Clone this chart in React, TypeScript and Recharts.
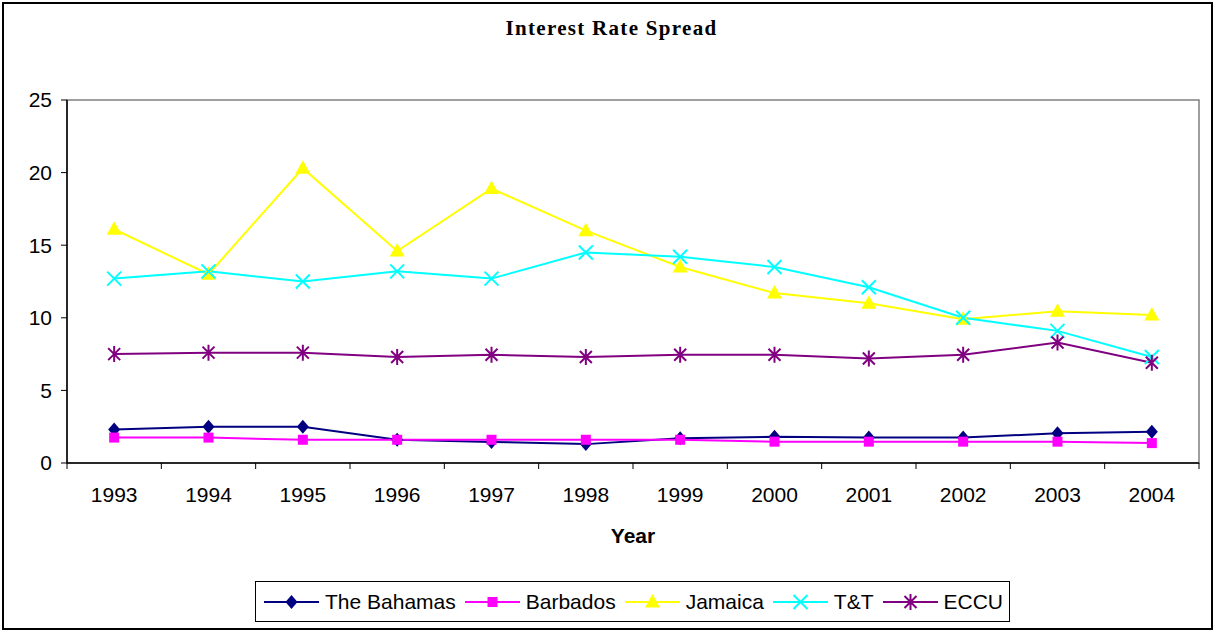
import React from "react"
import {
  LineChart,
  Line,
  XAxis,
  YAxis,
  ReferenceArea,
  Legend,
} from "recharts"

const years = ["1993", "1994", "1995", "1996", "1997", "1998", "1999", "2000", "2001", "2002", "2003", "2004"]
const bahamas = [2.3, 2.5, 2.5, 1.6, 1.45, 1.3, 1.7, 1.8, 1.75, 1.75, 2.05, 2.15]
const barbados = [1.75, 1.75, 1.6, 1.6, 1.6, 1.6, 1.6, 1.47, 1.47, 1.47, 1.47, 1.37]
const jamaica = [16.1, 13.0, 20.3, 14.6, 18.9, 16.0, 13.5, 11.7, 11.0, 9.9, 10.45, 10.2]
const trinidad = [12.7, 13.2, 12.5, 13.2, 12.7, 14.5, 14.2, 13.5, 12.1, 10.0, 9.1, 7.3]
const eccu = [7.5, 7.6, 7.6, 7.3, 7.45, 7.3, 7.45, 7.45, 7.2, 7.45, 8.3, 6.9]
const yTicks = [0, 5, 10, 15, 20, 25]

const data = years.map((year, i) => ({
  year,
  bahamas: bahamas[i],
  barbados: barbados[i],
  jamaica: jamaica[i],
  trinidad: trinidad[i],
  eccu: eccu[i],
}))

const FONT = "Arial, 'Liberation Sans', sans-serif"

type MarkProps = { cx?: number; cy?: number; color: string }

const Diamond = ({ cx = 0, cy = 0, color }: MarkProps) => (
  <path d={`M${cx},${cy - 7}L${cx + 6},${cy}L${cx},${cy + 7}L${cx - 6},${cy}Z`} fill={color} />
)
const Square = ({ cx = 0, cy = 0, color }: MarkProps) => (
  <rect x={cx - 5} y={cy - 5} width={10} height={10} fill={color} />
)
const Triangle = ({ cx = 0, cy = 0, color }: MarkProps) => (
  <path d={`M${cx},${cy - 8}L${cx + 7.5},${cy + 5.5}L${cx - 7.5},${cy + 5.5}Z`} fill={color} />
)
const Cross = ({ cx = 0, cy = 0, color }: MarkProps) => (
  <path d={`M${cx - 7},${cy - 7}L${cx + 7},${cy + 7}M${cx - 7},${cy + 7}L${cx + 7},${cy - 7}`} stroke={color} strokeWidth={2} fill="none" />
)
const Star = ({ cx = 0, cy = 0, color }: MarkProps) => (
  <path
    d={`M${cx - 6},${cy - 6}L${cx + 6},${cy + 6}M${cx - 6},${cy + 6}L${cx + 6},${cy - 6}M${cx},${cy - 8}L${cx},${cy + 8}`}
    stroke={color}
    strokeWidth={2}
    fill="none"
  />
)

const series = [
  { key: "bahamas", name: "The Bahamas", color: "#000080", Mark: Diamond },
  { key: "barbados", name: "Barbados", color: "#FF00FF", Mark: Square },
  { key: "jamaica", name: "Jamaica", color: "#FFFF00", Mark: Triangle },
  { key: "trinidad", name: "T&T", color: "#00FFFF", Mark: Cross },
  { key: "eccu", name: "ECCU", color: "#800080", Mark: Star },
]

// year labels centred in each band, tick marks on the band edges
const YearTick = (props: any) => {
  const { x, y, payload, index } = props
  const half = payload?.offset ?? 47
  return (
    <g>
      <line x1={x - half} x2={x - half} y1={y} y2={y + 6} stroke="#000" />
      {index === years.length - 1 && (
        <line x1={x + half} x2={x + half} y1={y} y2={y + 6} stroke="#000" />
      )}
      <text x={x} y={y + 39} textAnchor="middle" fontSize={21} fontFamily={FONT} fill="#000">
        {payload.value}
      </text>
    </g>
  )
}

const YearLabel = (props: any) => {
  const vb = props.viewBox || { x: 67, y: 463, width: 1132 }
  return (
    <text
      x={vb.x + vb.width / 2}
      y={vb.y + 80}
      textAnchor="middle"
      fontSize={21}
      fontWeight="bold"
      fontFamily={FONT}
      fill="#000"
    >
      Year
    </text>
  )
}

const LegendBox = () => (
  <div
    style={{
      display: "flex",
      alignItems: "center",
      boxSizing: "border-box",
      height: 41,
      border: "1px solid #000",
      paddingLeft: 8,
      paddingRight: 6,
      fontFamily: FONT,
      fontSize: 21,
      color: "#000",
      background: "#fff",
    }}
  >
    {series.map(({ key, name, color, Mark }, i) => (
      <div
        key={key}
        style={{ display: "flex", alignItems: "center", marginRight: i === series.length - 1 ? 0 : 9 }}
      >
        <svg width={55} height={20} style={{ marginRight: 6 }}>
          <line x1={0} x2={55} y1={10} y2={10} stroke={color} strokeWidth={2} />
          <Mark cx={27.5} cy={10} color={color} />
        </svg>
        <span style={{ whiteSpace: "nowrap" }}>{name}</span>
      </div>
    ))}
  </div>
)

export default function App() {
  return (
    <div style={{ position: "absolute", left: 0, top: 0, width: 1215, height: 632, background: "#fff" }}>
      <div
        style={{
          position: "absolute",
          left: 2,
          top: 2,
          width: 1211,
          height: 628,
          boxSizing: "border-box",
          border: "2px solid #000",
        }}
      />
      <div
        style={{
          position: "absolute",
          left: 4,
          top: 16,
          width: 1215,
          textAlign: "center",
          fontFamily: "'Times New Roman', 'Liberation Serif', serif",
          fontWeight: "bold",
          fontSize: 21,
          letterSpacing: 1.3,
          color: "#000",
        }}
      >
        Interest Rate Spread
      </div>
      <LineChart
        width={1215}
        height={632}
        data={data}
        margin={{ top: 100, right: 16, bottom: 10, left: 0 }}
        style={{ position: "absolute", left: 0, top: 0 }}
      >
        <ReferenceArea y1={0} y2={25} fill="none" stroke="#808080" strokeWidth={1.5} />
        <XAxis
          dataKey="year"
          scale="band"
          height={118}
          tickLine={false}
          tickSize={0}
          tickMargin={0}
          interval={0}
          axisLine={{ stroke: "#000", strokeWidth: 1.5 }}
          tick={<YearTick />}
          label={{ content: <YearLabel /> }}
        />
        <YAxis
          domain={[0, 25]}
          ticks={yTicks}
          width={67}
          tickSize={6}
          tickMargin={9}
          axisLine={{ stroke: "#000", strokeWidth: 1.5 }}
          tickLine={{ stroke: "#000" }}
          tick={{ fontSize: 21, fontFamily: FONT, fill: "#000" }}
        />
        {series.map(({ key, name, color, Mark }) => (
          <Line
            key={key}
            dataKey={key}
            name={name}
            stroke={color}
            strokeWidth={2}
            isAnimationActive={false}
            dot={(p: any) => <Mark key={`${key}-${p.index}`} cx={p.cx} cy={p.cy} color={color} />}
          />
        ))}
        <Legend
          verticalAlign="bottom"
          content={<LegendBox />}
          wrapperStyle={{ left: 255, bottom: 10, width: "auto" }}
        />
      </LineChart>
    </div>
  )
}
